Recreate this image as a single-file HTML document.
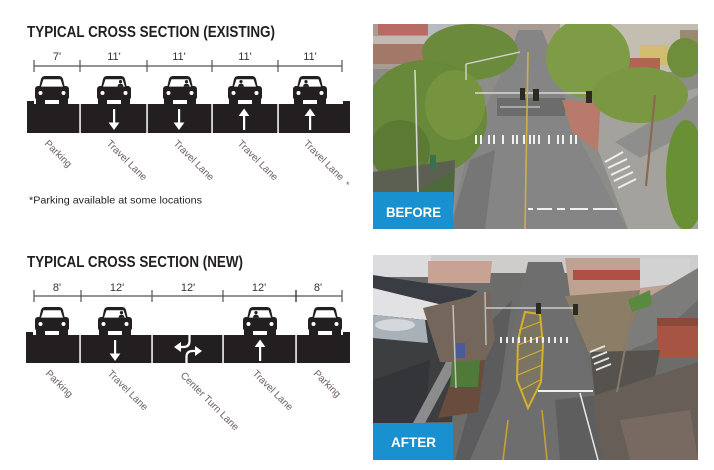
<!DOCTYPE html>
<html><head><meta charset="utf-8"><style>
html,body{margin:0;padding:0;background:#fff;}
svg{display:block;}
</style></head><body>
<svg width="714" height="470" viewBox="0 0 714 470" xmlns="http://www.w3.org/2000/svg" font-family="'Liberation Sans', sans-serif">
<defs>
  <g id="car">
    <path d="M4,12 L6,3 Q7,0 10,0 L24,0 Q27,0 28,3 L30,12 Z" fill="#231f20"/>
    <rect x="0" y="10" width="34" height="14" rx="3" fill="#231f20"/>
    <rect x="1" y="20" width="9" height="9" fill="#231f20"/>
    <rect x="24" y="20" width="9" height="9" fill="#231f20"/>
    <path d="M8.5,3.2 L25.5,3.2 L28,10.6 L6,10.6 Z" fill="#fff"/>
    <circle cx="5.5" cy="17" r="2" fill="#fff"/>
    <circle cx="28.5" cy="17" r="2" fill="#fff"/>
  </g>
  <g id="drvR"><circle cx="23.5" cy="5.6" r="1.6" fill="#231f20"/><path d="M20.5,10.6 Q20.8,7.6 23.5,7.6 Q26.2,7.6 26.5,10.6 Z" fill="#231f20"/></g>
  <g id="drvL"><circle cx="13" cy="5.6" r="1.6" fill="#231f20"/><path d="M10,10.6 Q10.3,7.6 13,7.6 Q15.7,7.6 16,10.6 Z" fill="#231f20"/></g>
  <clipPath id="c1"><rect x="373" y="24" width="325" height="205"/></clipPath>
  <clipPath id="c2"><rect x="373" y="255" width="325" height="205"/></clipPath>
</defs>

<!-- ============ EXISTING ============ -->
<text x="27" y="37" font-size="16" font-weight="bold" fill="#231f20" textLength="248" lengthAdjust="spacingAndGlyphs">TYPICAL CROSS SECTION (EXISTING)</text>

<g stroke="#555" stroke-width="1.2">
  <line x1="34" y1="66" x2="342" y2="66"/>
  <line x1="34" y1="60" x2="34" y2="72"/>
  <line x1="80" y1="60" x2="80" y2="72"/>
  <line x1="147" y1="60" x2="147" y2="72"/>
  <line x1="212" y1="60" x2="212" y2="72"/>
  <line x1="278" y1="60" x2="278" y2="72"/>
  <line x1="342" y1="60" x2="342" y2="72"/>
</g>
<g font-size="11" text-anchor="middle" fill="#3b2f45">
  <text x="57" y="60">7'</text>
  <text x="114" y="60">11'</text>
  <text x="179" y="60">11'</text>
  <text x="245" y="60">11'</text>
  <text x="310" y="60">11'</text>
</g>

<rect x="27" y="104" width="323" height="29" fill="#231f20"/>
<rect x="27" y="101" width="7" height="5" fill="#231f20"/>
<rect x="343" y="101" width="7" height="5" fill="#231f20"/>
<g fill="#fff">
  <rect x="79.3" y="104" width="1.5" height="29"/>
  <rect x="146.3" y="104" width="1.5" height="29"/>
  <rect x="211.3" y="104" width="1.5" height="29"/>
  <rect x="277.3" y="104" width="1.5" height="29"/>
</g>
<use href="#car" x="35" y="76"/>
<use href="#car" x="97" y="76"/><use href="#drvR" x="97" y="76"/>
<use href="#car" x="163" y="76"/><use href="#drvR" x="163" y="76"/>
<use href="#car" x="228" y="76"/><use href="#drvL" x="228" y="76"/>
<use href="#car" x="293" y="76"/><use href="#drvL" x="293" y="76"/>
<g fill="#fff">
  <rect x="113" y="109" width="2.2" height="15"/><polygon points="108.6,122.5 119.4,122.5 114,130"/>
  <rect x="178" y="109" width="2.2" height="15"/><polygon points="173.6,122.5 184.4,122.5 179,130"/>
  <rect x="243" y="115" width="2.2" height="15"/><polygon points="238.6,116 249.4,116 244.1,108.5"/>
  <rect x="309" y="115" width="2.2" height="15"/><polygon points="304.6,116 315.4,116 310.1,108.5"/>
</g>
<g font-size="10" fill="#6d5d6b">
  <text transform="translate(44,144) rotate(45)">Parking</text>
  <text transform="translate(106,144) rotate(45)">Travel Lane</text>
  <text transform="translate(173,144) rotate(45)">Travel Lane</text>
  <text transform="translate(237,144) rotate(45)">Travel Lane</text>
  <text transform="translate(303,144) rotate(45)">Travel Lane</text>
  <text x="346" y="188" font-size="9">*</text>
</g>
<text x="29" y="203.5" font-size="10.5" fill="#231f20" textLength="173" lengthAdjust="spacingAndGlyphs">*Parking available at some locations</text>

<!-- ============ NEW ============ -->
<text x="27" y="267" font-size="16" font-weight="bold" fill="#231f20" textLength="216" lengthAdjust="spacingAndGlyphs">TYPICAL CROSS SECTION (NEW)</text>
<g stroke="#555" stroke-width="1.2">
  <line x1="34" y1="296" x2="342" y2="296"/>
  <line x1="34" y1="290" x2="34" y2="302"/>
  <line x1="81" y1="290" x2="81" y2="302"/>
  <line x1="152" y1="290" x2="152" y2="302"/>
  <line x1="223" y1="290" x2="223" y2="302"/>
  <line x1="296" y1="290" x2="296" y2="302" stroke="#222"/>
  <line x1="342" y1="290" x2="342" y2="302"/>
</g>
<g font-size="11" text-anchor="middle" fill="#3b2f45">
  <text x="57" y="291">8'</text>
  <text x="117" y="291">12'</text>
  <text x="188" y="291">12'</text>
  <text x="259" y="291">12'</text>
  <text x="318" y="291">8'</text>
</g>
<rect x="26" y="335" width="324" height="28" fill="#231f20"/>
<rect x="26" y="332" width="7" height="5" fill="#231f20"/>
<rect x="343" y="332" width="7" height="5" fill="#231f20"/>
<g fill="#fff">
  <rect x="79.3" y="335" width="1.5" height="28"/>
  <rect x="151.3" y="335" width="1.5" height="28"/>
  <rect x="222.3" y="335" width="1.5" height="28"/>
  <rect x="295.3" y="335" width="1.5" height="28"/>
</g>
<use href="#car" x="35" y="307"/>
<use href="#car" x="98" y="307"/><use href="#drvR" x="98" y="307"/>
<use href="#car" x="243" y="307"/><use href="#drvL" x="243" y="307"/>
<use href="#car" x="308" y="307"/>
<g fill="#fff">
  <rect x="114" y="340" width="2.2" height="15"/><polygon points="109.6,353.5 120.4,353.5 115.1,361"/>
  <rect x="259" y="346" width="2.2" height="15"/><polygon points="254.6,347 265.4,347 260.1,339.5"/>
</g>
<g stroke="#fff" stroke-width="2.2" fill="none">
  <path d="M189.5,335 V341 Q189.5,347 183.5,347 H180"/>
  <path d="M186.5,363 V357 Q186.5,351 192.5,351 H196"/>
</g>
<g fill="#fff">
  <polygon points="174,347 181,342 181,352"/>
  <polygon points="202,351 195,346 195,356"/>
</g>
<g font-size="10" fill="#6d5d6b">
  <text transform="translate(45,374) rotate(45)">Parking</text>
  <text transform="translate(107,374) rotate(45)">Travel Lane</text>
  <text transform="translate(180,376) rotate(45)">Center Turn Lane</text>
  <text transform="translate(252,374) rotate(45)">Travel Lane</text>
  <text transform="translate(313,374) rotate(45)">Parking</text>
</g>

<!-- ============ BEFORE PHOTO ============ -->
<g clip-path="url(#c1)">
  <rect x="373" y="24" width="325" height="205" fill="#8c8c88"/>
  <rect x="373" y="24" width="325" height="45" fill="#a89c92"/>
  <rect x="378" y="24" width="50" height="11" fill="#b86a64"/>
  <rect x="428" y="24" width="45" height="12" fill="#b8bcc2"/>
  <polygon points="373,36 456,36 456,44 373,44" fill="#c2bab2"/>
  <polygon points="373,44 452,44 450,64 373,64" fill="#a27868"/>
  <rect x="560" y="24" width="138" height="48" fill="#c4beb2"/>
  <rect x="640" y="45" width="28" height="20" fill="#d2bc70"/>
  <rect x="615" y="58" width="45" height="14" fill="#b06454"/>
  <rect x="680" y="30" width="18" height="22" fill="#9a8a70"/>
  <polygon points="518,30 542,30 552,55 580,140 627,229 450,229 470,140 510,55" fill="#858585"/>
  <rect x="497" y="98" width="68" height="18" fill="#6c6c6c"/>
  <polygon points="450,229 470,160 495,150 485,229" fill="#767676"/>
  <polygon points="562,100 600,102 628,142 596,150 572,132" fill="#b87a6a"/>
  <polygon points="600,112 698,88 698,229 628,229 598,150" fill="#a4a29c"/>
  <polygon points="615,142 698,95 698,128 640,158" fill="#8e8e8c"/>
  <ellipse cx="470" cy="52" rx="48" ry="28" fill="#6c8a3c"/>
  <ellipse cx="425" cy="118" rx="62" ry="58" fill="#68883a"/>
  <ellipse cx="400" cy="150" rx="30" ry="30" fill="#5c7a34"/>
  <ellipse cx="455" cy="105" rx="30" ry="35" fill="#76943f"/>
  <ellipse cx="588" cy="58" rx="42" ry="40" fill="#7e9c46"/>
  <ellipse cx="640" cy="95" rx="48" ry="28" fill="#7a9842"/>
  <ellipse cx="685" cy="58" rx="18" ry="20" fill="#6e8e3c"/>
  <ellipse cx="686" cy="175" rx="20" ry="55" fill="#6a9036"/>
  <polygon points="373,172 455,160 452,229 373,229" fill="#5c6052"/>
  <polygon points="420,190 455,170 452,229 420,229" fill="#4e6a3a"/>
  <line x1="415" y1="70" x2="418" y2="192" stroke="#d4d4d4" stroke-width="1.6"/>
  <line x1="466" y1="64" x2="520" y2="52" stroke="#d4d4d4" stroke-width="1.4"/>
  <line x1="466" y1="64" x2="466" y2="80" stroke="#d4d4d4" stroke-width="1.4"/>
  <line x1="655" y1="95" x2="646" y2="186" stroke="#8a6a52" stroke-width="2.2"/>
  <rect x="430" y="155" width="6" height="14" fill="#3a7050"/>
  <line x1="475" y1="93" x2="592" y2="93" stroke="#d8d8d8" stroke-width="1.6"/>
  <rect x="520" y="88" width="5" height="12" fill="#2a2a22"/>
  <rect x="533" y="89" width="6" height="12" fill="#2a2a22"/>
  <rect x="586" y="91" width="6" height="12" fill="#2a2a22"/>
  <line x1="500" y1="107" x2="540" y2="107" stroke="#c8c8c8" stroke-width="1.2"/>
  <line x1="528" y1="52" x2="525" y2="229" stroke="#cfae48" stroke-width="1.6"/>
  <g fill="#f0f0f0">
    <rect x="475" y="135" width="2" height="9"/><rect x="480" y="135" width="2" height="9"/>
    <rect x="488" y="135" width="2" height="9"/><rect x="493" y="135" width="2" height="9"/>
    <rect x="502" y="135" width="2" height="9"/><rect x="512" y="135" width="2" height="9"/>
    <rect x="516" y="135" width="2" height="9"/><rect x="523" y="135" width="2" height="9"/>
    <rect x="529" y="135" width="2" height="9"/><rect x="533" y="135" width="2" height="9"/>
    <rect x="538" y="135" width="2" height="9"/><rect x="548" y="135" width="2" height="9"/>
    <rect x="557" y="135" width="2" height="9"/><rect x="562" y="135" width="2" height="9"/>
    <rect x="570" y="135" width="2" height="9"/><rect x="575" y="135" width="2" height="9"/>
    <rect x="528" y="208" width="5" height="2"/><rect x="537" y="208" width="15" height="2"/>
    <rect x="557" y="208" width="8" height="2"/><rect x="570" y="208" width="18" height="2"/>
    <rect x="593" y="208" width="24" height="2"/>
  </g>
  <g stroke="#eeeeee" stroke-width="2">
    <line x1="605" y1="162" x2="623" y2="152"/>
    <line x1="608" y1="168" x2="627" y2="159"/>
    <line x1="611" y1="175" x2="630" y2="166"/>
    <line x1="614" y1="181" x2="633" y2="172"/>
    <line x1="618" y1="188" x2="636" y2="179"/>
  </g>
  <rect x="373" y="192" width="80" height="37" fill="#1991d0"/>
  <text x="386" y="217" font-size="14" font-weight="bold" fill="#fff" textLength="55" lengthAdjust="spacingAndGlyphs">BEFORE</text>
</g>

<!-- ============ AFTER PHOTO ============ -->
<g clip-path="url(#c2)">
  <rect x="373" y="255" width="325" height="205" fill="#6c6c6a"/>
  <rect x="373" y="255" width="325" height="18" fill="#cfcdcb"/>
  <rect x="373" y="255" width="58" height="22" fill="#dcdcde"/>
  <polygon points="428,261 492,261 490,283 428,283" fill="#c8a292"/>
  <polygon points="373,275 478,291 455,308 373,288" fill="#3a3c44"/>
  <polygon points="373,288 455,308 457,323 373,315" fill="#e2e2e4"/>
  <polygon points="373,315 457,323 452,422 373,423" fill="#3c3e40"/>
  <polygon points="373,315 425,320 428,343 373,338" fill="#a8b0b8"/>
  <ellipse cx="395" cy="325" rx="20" ry="6" fill="#d4d8dc"/>
  <polygon points="373,380 430,360 425,423 373,423" fill="#333538"/>
  <!-- road -->
  <polygon points="528,262 562,262 593,390 603,460 455,460 500,390" fill="#6e6e6e"/>
  <polygon points="490,322 512,300 500,390 470,460 455,460 470,405" fill="#5c5c5e"/>
  <polygon points="555,400 600,395 603,460 560,460" fill="#5e5e5e"/>
  <!-- left bare trees / grass / sidewalk -->
  <polygon points="423,308 490,292 495,340 483,365 440,362" fill="#74665a"/>
  <polygon points="446,362 458,362 425,423 413,423" fill="#8c8c8c"/>
  <polygon points="458,362 485,360 478,412 438,418" fill="#6a4c3c"/>
  <polygon points="452,362 480,360 478,387 450,387" fill="#4f7a3a"/>
  <!-- right side -->
  <polygon points="565,258 670,258 670,296 570,296" fill="#c0a292"/>
  <rect x="573" y="270" width="78" height="10" fill="#b05045"/>
  <polygon points="640,258 690,258 690,282 640,288" fill="#d2d2d2"/>
  <polygon points="565,296 640,290 632,350 590,356" fill="#8c7e66"/>
  <polygon points="640,302 698,268 698,300 652,342 622,352" fill="#7c7c7a"/>
  <polygon points="628,300 650,290 652,305 632,312" fill="#5a8a40"/>
  <rect x="657" y="318" width="41" height="40" fill="#a85444"/>
  <rect x="657" y="318" width="41" height="8" fill="#8a4a3a"/>
  <polygon points="590,352 660,350 652,392 595,396" fill="#56534f"/>
  <rect x="657" y="390" width="41" height="17" fill="#3a84c8"/>
  <polygon points="593,396 698,362 698,460 602,460" fill="#675e58"/>
  <polygon points="620,420 690,410 698,460 630,460" fill="#786a60"/>
  <!-- median -->
  <polygon points="525,312 540,314 543,345 541,382 528,408 517,380 518,340" fill="#7a7462" stroke="#d6b02a" stroke-width="2"/>
  <g stroke="#d6b02a" stroke-width="1">
    <line x1="519" y1="330" x2="540" y2="322"/>
    <line x1="518" y1="345" x2="542" y2="336"/>
    <line x1="518" y1="360" x2="542" y2="350"/>
    <line x1="518" y1="375" x2="542" y2="365"/>
    <line x1="521" y1="390" x2="540" y2="380"/>
  </g>
  <g fill="#ececec">
    <rect x="500" y="337" width="2" height="6"/><rect x="506" y="337" width="2" height="6"/>
    <rect x="512" y="337" width="2" height="6"/><rect x="518" y="337" width="2" height="6"/>
    <rect x="524" y="337" width="2" height="6"/><rect x="530" y="337" width="2" height="6"/>
    <rect x="536" y="337" width="2" height="6"/><rect x="542" y="337" width="2" height="6"/>
    <rect x="548" y="337" width="2" height="6"/><rect x="554" y="337" width="2" height="6"/>
    <rect x="560" y="337" width="2" height="6"/><rect x="566" y="337" width="2" height="6"/>
  </g>
  <g stroke="#e4e4e4" stroke-width="1.8">
    <line x1="590" y1="352" x2="605" y2="346"/>
    <line x1="592" y1="358" x2="607" y2="352"/>
    <line x1="594" y1="364" x2="609" y2="358"/>
    <line x1="596" y1="370" x2="611" y2="364"/>
  </g>
  <line x1="538" y1="391" x2="593" y2="391" stroke="#f0f0f0" stroke-width="2"/>
  <line x1="580" y1="393" x2="598" y2="460" stroke="#e8e8e8" stroke-width="1.5"/>
  <line x1="508" y1="420" x2="503" y2="460" stroke="#c8a030" stroke-width="1.6"/>
  <line x1="542" y1="410" x2="547" y2="460" stroke="#c8a030" stroke-width="1.6"/>
  <line x1="485" y1="308" x2="575" y2="308" stroke="#cccccc" stroke-width="1.6"/>
  <rect x="536" y="303" width="5" height="11" fill="#2a2a22"/>
  <rect x="573" y="304" width="5" height="11" fill="#2a2a22"/>
  <line x1="485" y1="292" x2="486" y2="345" stroke="#b8b8b8" stroke-width="1.5"/>
  <line x1="453" y1="305" x2="456" y2="388" stroke="#c0c0c0" stroke-width="1.5"/>
  <rect x="456" y="343" width="9" height="15" fill="#4a5a9a"/>
  <line x1="632" y1="312" x2="617" y2="392" stroke="#8a7a68" stroke-width="2"/>
  <rect x="373" y="423" width="80" height="37" fill="#1991d0"/>
  <text x="391" y="447" font-size="14" font-weight="bold" fill="#fff" textLength="45" lengthAdjust="spacingAndGlyphs">AFTER</text>
</g>
</svg>
</body></html>
